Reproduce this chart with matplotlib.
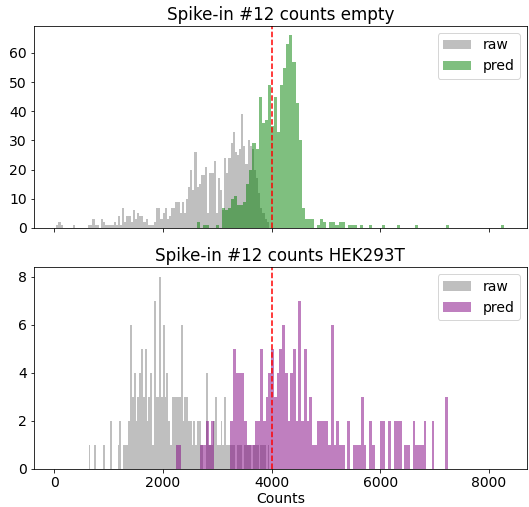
import numpy as np
import matplotlib
matplotlib.use("Agg")
import matplotlib.pyplot as plt

plt.rcParams["font.size"] = 14

# bin ranges (min, max) of each histogram, 100 bins each
empty_raw_range = (35, 3950)
empty_pred_range = (2630, 8290)
hek_raw_range = (632, 3960)
hek_pred_range = (2240, 7250)

empty_raw = [1, 2, 1, 0, 0, 0, 0, 0, 1, 0,
             0, 0, 0, 0, 0, 1, 1, 3, 1, 1,
             0, 3, 2, 1, 1, 1, 1, 2, 1, 4,
             1, 7, 2, 4, 4, 2, 6, 3, 5, 4,
             4, 2, 3, 1, 1, 1, 2, 7, 7, 3,
             5, 7, 3, 4, 7, 7, 9, 9, 5, 9,
             5, 10, 14, 20, 13, 26, 14, 15, 18, 18,
             21, 5, 19, 19, 23, 5, 17, 13, 6, 24,
             19, 24, 29, 33, 26, 25, 27, 39, 28, 22,
             30, 28, 27, 20, 17, 12, 7, 5, 3, 2]

empty_pred = [2, 0, 1, 1, 0, 0, 1, 0, 7, 6,
              7, 10, 11, 8, 8, 9, 15, 20, 29, 27,
              45, 36, 37, 49, 35, 45, 33, 49, 55, 63,
              66, 57, 43, 30, 7, 3, 3, 3, 0, 1,
              3, 2, 0, 2, 2, 1, 2, 2, 0, 1,
              1, 1, 0, 1, 0, 0, 1, 0, 0, 0,
              1, 0, 0, 0, 0, 1, 0, 0, 0, 0,
              0, 1, 0, 0, 0, 0, 0, 0, 0, 0,
              0, 1, 0, 0, 0, 0, 0, 0, 0, 0,
              0, 0, 0, 0, 0, 0, 0, 0, 0, 1]

hek_raw = [1, 0, 0, 1, 0, 0, 0, 0, 1, 0,
           0, 0, 2, 0, 0, 0, 1, 2, 0, 1,
           1, 1, 2, 6, 3, 4, 2, 3, 4, 5,
           3, 5, 2, 3, 4, 1, 7, 3, 3, 8,
           3, 6, 3, 4, 2, 1, 3, 3, 3, 3,
           3, 6, 2, 3, 3, 2, 2, 1, 2, 1,
           2, 2, 1, 0, 0, 4, 1, 1, 1, 2,
           3, 1, 1, 2, 1, 3, 1, 1, 1, 1,
           1, 0, 1, 1, 1, 0, 1, 1, 1, 1,
           0, 1, 1, 1, 0, 1, 1, 1, 0, 1]

hek_pred = [1, 1, 0, 0, 0, 0, 0, 0, 0, 1,
            1, 2, 1, 2, 0, 0, 0, 0, 0, 0,
            2, 5, 4, 4, 4, 2, 1, 1, 1, 2,
            2, 5, 2, 3, 4, 5, 3, 4, 5, 6,
            4, 2, 4, 5, 2, 7, 2, 5, 2, 3,
            1, 1, 2, 2, 2, 2, 1, 6, 1, 2,
            1, 1, 0, 2, 0, 1, 1, 1, 3, 1,
            0, 2, 1, 0, 0, 2, 2, 0, 2, 0,
            2, 2, 2, 0, 1, 1, 0, 2, 1, 1,
            1, 2, 0, 0, 2, 0, 0, 0, 0, 3]

cutoff = 4000


def draw_hist(ax, rng, counts, color, label):
    edges = np.linspace(rng[0], rng[1], len(counts) + 1)
    ax.hist(edges[:-1], bins=edges, weights=counts, color=color,
            alpha=0.5, label=label)


fig, (ax1, ax2) = plt.subplots(2, 1, sharex=True, figsize=(529 / 72, 507 / 72), dpi=72)
fig.subplots_adjust(left=0.064, right=0.996, top=0.949, bottom=0.075, hspace=0.193)

draw_hist(ax1, empty_raw_range, empty_raw, "gray", "raw")
draw_hist(ax1, empty_pred_range, empty_pred, "green", "pred")
ax1.axvline(cutoff, color="red", linestyle="--")
ax1.set_title("Spike-in #12 counts empty")
ax1.legend(loc="upper right")

draw_hist(ax2, hek_raw_range, hek_raw, "gray", "raw")
draw_hist(ax2, hek_pred_range, hek_pred, "purple", "pred")
ax2.axvline(cutoff, color="red", linestyle="--")
ax2.set_title("Spike-in #12 counts HEK293T")
ax2.legend(loc="upper right")
ax2.set_xlabel("Counts", labelpad=2)

fig.savefig("out.png", dpi=72)
